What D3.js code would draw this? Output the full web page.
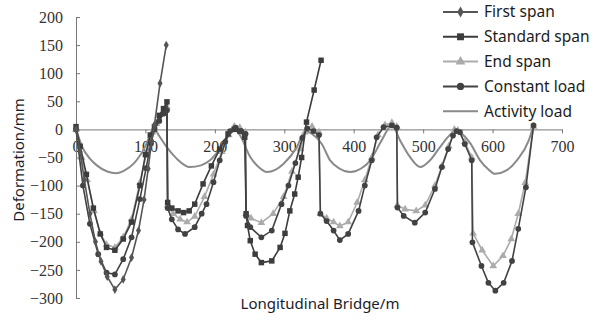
<!DOCTYPE html>
<html>
<head>
<meta charset="utf-8">
<script src="https://cdn.jsdelivr.net/npm/d3@7"></script>
<style>
  body { margin: 0; background: #fff; }
  svg { display: block; }
</style>
</head>
<body>
<svg id="chart" width="602" height="322"></svg>
<script>
// series as [x (m), deformation (mm)] pairs
const firstSpan = [[0,0],[6,-40],[12,-90],[20,-150],[28,-200],[36,-235],[45,-262],[56,-285],[68,-267],[80,-228],
  [90,-180],[98,-125],[104,-70],[109,-20],[113,8],[121,82],[130,150]];

const standardSpan = [[0,5],[6,-30],[15,-80],[25,-140],[35,-186],[44,-210],[56,-215],[68,-195],[80,-165],[92,-100],
  [100,-45],[107,-10],[113,5],[120,25],[126,37],[131,49],[132,-130],[138,-140],[147,-145],[155,-148],[163,-145],
  [171,-133],[183,-97],[195,-65],[207,-35],[219,-8],[228,0],[236,-3],[243,-14],[245,-150],[247,-171],[251,-198],
  [258,-222],[267,-237],[282,-234],[294,-210],[301,-185],[308,-145],[315,-115],[320,-85],[325,-50],[332,13],
  [343,70],[353,123]];

const endSpan = [[0,0],[8,-50],[16,-90],[26,-145],[35,-185],[44,-205],[56,-210],[68,-192],[80,-160],[92,-95],
  [102,-40],[110,-5],[116,10],[125,30],[131,40],[132,-135],[140,-150],[150,-160],[160,-165],[171,-155],[185,-120],
  [198,-80],[210,-40],[220,-10],[228,5],[236,3],[244,-5],[245,-150],[252,-158],[267,-166],[284,-150],[299,-120],
  [311,-75],[323,-35],[330,-5],[340,5],[350,-5],[352,-150],[361,-158],[371,-165],[380,-172],[392,-165],[405,-130],
  [416,-90],[426,-50],[435,-10],[445,8],[455,12],[462,5],[463,-135],[474,-142],[490,-145],[503,-135],[517,-100],
  [527,-65],[537,-30],[545,0],[550,-2],[560,-22],[570,-50],[572,-185],[585,-215],[601,-243],[615,-225],[627,-195],
  [637,-150],[647,-95],[659,5]];

const constantLoad = [[0,0],[10,-100],[20,-168],[32,-222],[44,-255],[56,-258],[68,-231],[80,-192],[92,-124],
  [101,-69],[108,-25],[113,0],[120,15],[126,28],[131,34],[132,-140],[138,-160],[147,-178],[157,-186],[171,-174],
  [181,-150],[188,-133],[198,-94],[207,-55],[215,-22],[222,-3],[230,3],[238,-3],[244,-8],[245,-154],[251,-174],
  [267,-192],[282,-180],[296,-133],[306,-100],[316,-60],[326,-15],[333,2],[342,-3],[350,-10],[352,-150],[361,-163],
  [371,-180],[380,-197],[392,-186],[407,-145],[416,-100],[426,-55],[433,-14],[443,4],[455,7],[462,3],[463,-139],
  [472,-154],[488,-166],[503,-148],[517,-106],[527,-67],[536,-35],[543,-11],[548,-3],[553,-5],[560,-26],[570,-55],
  [571,-201],[584,-243],[594,-273],[604,-287],[616,-273],[628,-234],[637,-177],[648,-103],[659,7]];

const activityLoad = [[0,0],[10,-34],[20,-52],[30,-64],[45,-75],[58,-78],[70,-73],[83,-61],[99,-32],[109,-5],
  [113,0],[120,-12],[131,-32],[145,-52],[164,-67],[180,-64],[193,-55],[207,-35],[217,-17],[226,3],[236,-10],
  [251,-49],[263,-67],[275,-76],[287,-72],[299,-61],[318,-32],[330,-3],[340,-8],[354,-26],[366,-55],[380,-70],
  [395,-76],[410,-70],[424,-55],[440,-20],[455,7],[467,-20],[481,-49],[496,-67],[510,-55],[524,-32],[537,-12],
  [548,-2],[556,-8],[568,-25],[582,-55],[593,-70],[604,-79],[620,-73],[635,-55],[652,-20],[659,7]];

const seriesNames = ["First span", "Standard span", "End span", "Constant load", "Activity load"];
const xTicks = [0, 100, 200, 300, 400, 500, 600, 700];
const yTicks = [-300, -250, -200, -150, -100, -50, 0, 50, 100, 150, 200];

const series = [
  {name: seriesNames[0], data: firstSpan, color: "#555", marker: "diamond", size: 22},
  {name: seriesNames[1], data: standardSpan, color: "#3c3c3c", marker: "square", size: 30},
  {name: seriesNames[2], data: endSpan, color: "#ababab", marker: "triangle", size: 26},
  {name: seriesNames[3], data: constantLoad, color: "#424242", marker: "circle", size: 26},
  {name: seriesNames[4], data: activityLoad, color: "#8a8a8a", marker: null}
];

const serifFont = "'Times New Roman', 'Liberation Serif', 'DejaVu Serif', serif";

const svg = d3.select("#chart");

const x = d3.scaleLinear().domain([0, 700]).range([76, 562]);
const y = d3.scaleLinear().domain([-300, 200]).range([298, 17]);

// x axis along the zero line
const xAxis = svg.append("g")
  .attr("transform", "translate(0," + y(0) + ")")
  .call(d3.axisBottom(x).tickValues(xTicks).tickSizeInner(4).tickSizeOuter(0).tickPadding(7));
xAxis.selectAll("path, line").attr("stroke", "#777");
xAxis.selectAll("text").style("font-family", serifFont).style("font-size", "16px").attr("fill", "#333");

// y axis
const yAxis = svg.append("g")
  .attr("transform", "translate(" + x(0) + ",0)")
  .call(d3.axisLeft(y).tickValues(yTicks).tickSizeInner(-4).tickSizeOuter(0).tickPadding(13));
yAxis.selectAll("path, line").attr("stroke", "#777");
yAxis.selectAll("text").style("font-family", serifFont).style("font-size", "16px").attr("fill", "#333");

const symbols = {
  diamond: d3.symbolDiamond,
  square: d3.symbolSquare,
  triangle: d3.symbolTriangle,
  circle: d3.symbolCircle
};

const line = d3.line().x(d => x(d[0])).y(d => y(d[1]));
const smooth = d3.line().x(d => x(d[0])).y(d => y(d[1])).curve(d3.curveMonotoneX);

// draw lines back to front
[4, 2, 1, 3, 0].forEach(i => {
  const s = series[i];
  svg.append("path")
    .datum(s.data)
    .attr("fill", "none")
    .attr("stroke", s.color)
    .attr("stroke-width", s.marker ? 1.6 : 2)
    .attr("d", s.marker ? line : smooth);
  if (s.marker) {
    svg.append("g").selectAll("path")
      .data(s.data)
      .enter()
      .append("path")
      .attr("transform", d => "translate(" + x(d[0]) + "," + y(d[1]) + ")")
      .attr("d", d3.symbol().type(symbols[s.marker]).size(s.size))
      .attr("fill", s.color);
  }
});

// legend
const legend = svg.append("g");
legend.append("rect").attr("x", 438).attr("y", 0).attr("width", 164).attr("height", 122).attr("fill", "#fff");
series.forEach((s, i) => {
  const ly = 12 + i * 24.8;
  const row = legend.append("g").attr("transform", "translate(0," + ly + ")");
  row.append("line").attr("x1", 443).attr("x2", 478).attr("y1", 0).attr("y2", 0)
    .attr("stroke", s.color).attr("stroke-width", 2);
  if (s.marker) {
    row.append("path").attr("transform", "translate(460.5,0)")
      .attr("d", d3.symbol().type(symbols[s.marker]).size(s.size * 1.6))
      .attr("fill", s.color);
  }
  row.append("text").attr("x", 484).attr("y", 0).attr("dy", "0.35em")
    .attr("fill", "#1c1c1c").style("font", "15.5px 'Noto Sans'")
    .text(s.name);
});

// axis titles
svg.append("text")
  .attr("transform", "translate(24,160) rotate(-90)")
  .attr("text-anchor", "middle")
  .attr("fill", "#1c1c2a")
  .style("font", "15px 'Noto Sans'")
  .text("Deformation/mm");

svg.append("text")
  .attr("x", 320).attr("y", 309)
  .attr("text-anchor", "middle")
  .attr("fill", "#1c1c2a")
  .style("font", "15px 'Noto Sans'")
  .text("Longitudinal Bridge/m");
</script>
</body>
</html>
